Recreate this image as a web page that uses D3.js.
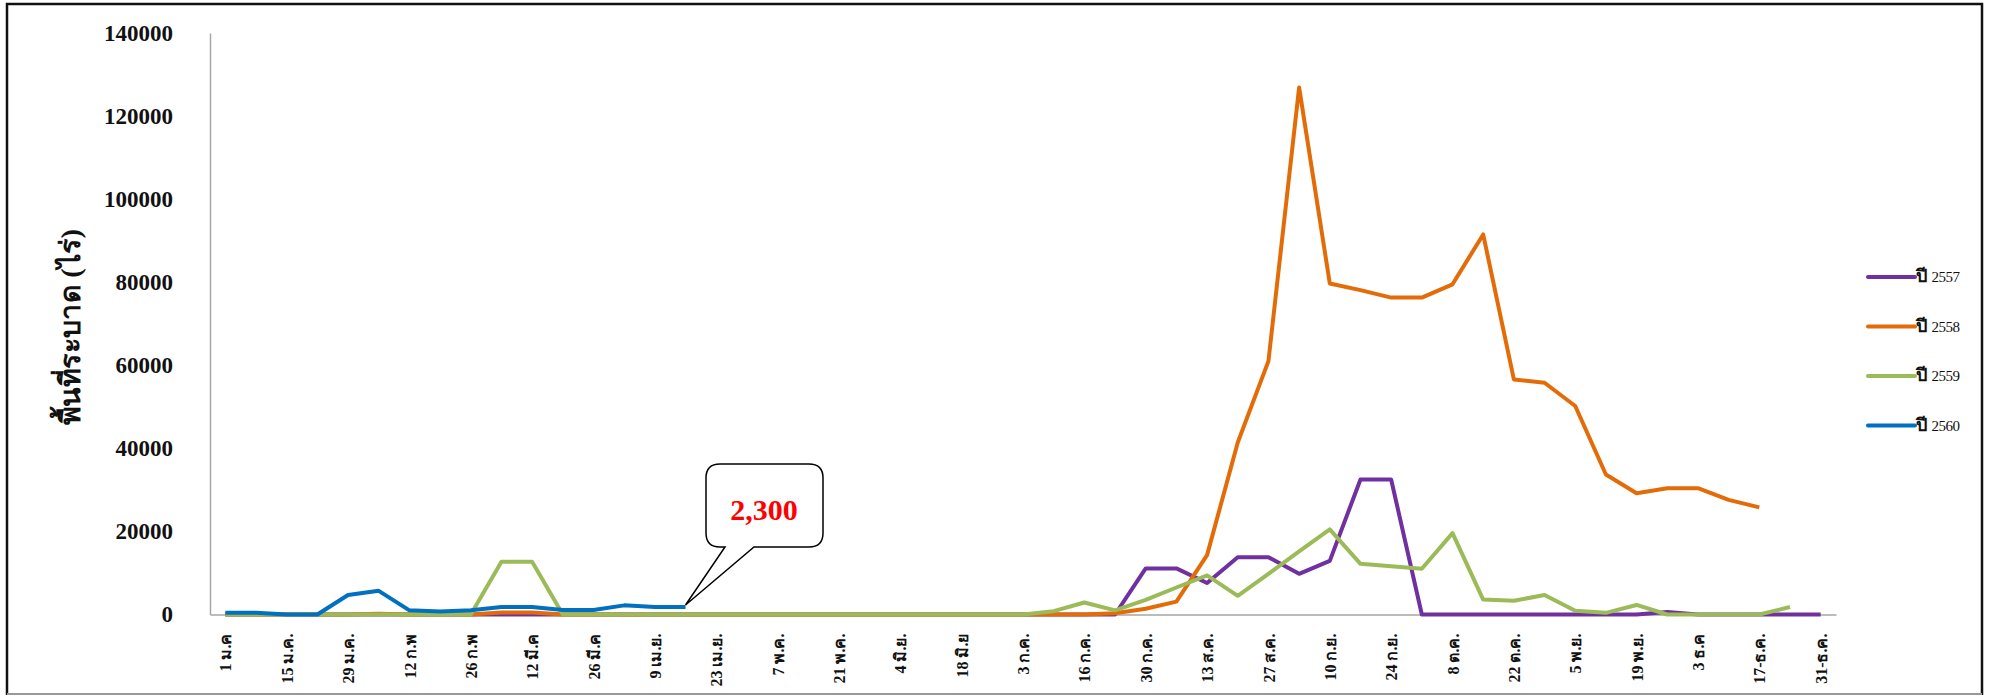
<!DOCTYPE html>
<html>
<head>
<meta charset="utf-8">
<script src="https://cdn.jsdelivr.net/npm/d3@7"></script>
<style>
body { margin:0; background:#fff; }
</style>
</head>
<body>
<div id="chart"></div>
<script>
// size of SVG
var w = 1992;
var h = 696;

// tick labels, one every second week
var tickLabels = ["1 ม.ค", "15 ม.ค.", "29 ม.ค.", "12 ก.พ", "26 ก.พ", "12 มี.ค", "26 มี.ค", "9 เม.ย.",
  "23 เม.ย.", "7 พ.ค.", "21 พ.ค.", "4 มิ.ย.", "18 มิ.ย", "3 ก.ค.", "16 ก.ค.", "30 ก.ค.", "13 ส.ค.",
  "27 ส.ค.", "10 ก.ย.", "24 ก.ย.", "8 ต.ค.", "22 ต.ค.", "5 พ.ย.", "19 พ.ย.", "3 ธ.ค", "17-ธ.ค.", "31-ธ.ค."];

// weekly values (rai), one per week, null = no data
var y2557 = [0,0,0,0,0,0,0,0,0,0, 0,0,0,0,0,0,0,0,0,0, 0,0,0,0,0,0,0,0,0,0,
  11100,11100,7600,13800,13800,9800,12900,32500,32500,0, 0,0,0,0,0,0,0,600,0,0, 0,0,0];
var y2558 = [0,0,0,0,0,200,0,0,0,500, 500,0,0,0,0,0,0,0,0,0, 0,0,0,0,0,0,0,0,0,300,
  1400,3100,14300,41400,61000,126900,79700,78100,76300,76300, 79500,91500,56600,55800,50200,33700,29200,30400,30400,27600, 25800,null,null];
var y2559 = [0,0,0,0,0,0,0,0,0,12700, 12700,0,0,0,0,0,0,0,0,0, 0,0,0,0,0,0,0,800,2900,1000,
  3500,6500,9400,4500,9800,15200,20500,12200,11600,11000, 19600,3600,3300,4700,900,400,2300,0,0,0, 0,1800,null];
var y2560 = [400,400,0,0,4700,5700,1000,700,1000,1800, 1800,1100,1100,2200,1800,1800,null,null,null,null,
  null,null,null,null,null,null,null,null,null,null, null,null,null,null,null,null,null,null,null,null,
  null,null,null,null,null,null,null,null,null,null, null,null,null];

var seriesYears = ["2557", "2558", "2559", "2560"];
var seriesColors = ["#7030A0", "#E36C09", "#9BBB59", "#0070C0"];
var seriesValues = [y2557, y2558, y2559, y2560];

// callout text
var calloutText = "2,300";
var calloutWeek = 15;

// set up SVG container
var svg = d3.select("#chart")
  .append("svg")
  .attr("width", w)
  .attr("height", h)
  .attr("xmlns", "http://www.w3.org/2000/svg");

// frame
svg.append("rect").attr("x", 0).attr("y", 0).attr("width", w).attr("height", h).attr("fill", "white");
svg.append("path")
  .attr("d", "M7,695 L7,4 L1982,4 L1982,695")
  .attr("fill", "none").attr("stroke", "#111").attr("stroke-width", 2.5);
svg.append("line").attr("x1", 7).attr("x2", 1982).attr("y1", 694).attr("y2", 694)
  .attr("stroke", "#999").attr("stroke-width", 2);

// scales
var x = d3.scalePoint()
  .domain(d3.range(y2557.length))
  .range([210, 1836])
  .padding(0.5);
var y = d3.scaleLinear()
  .domain([0, 140000])
  .range([614.5, 33]);

// y axis
var yAxis = svg.append("g")
  .attr("transform", "translate(210,0)")
  .call(d3.axisLeft(y).ticks(7).tickSize(0).tickPadding(37).tickFormat(d3.format("d")));
yAxis.select(".domain").attr("stroke", "#a6a6a6").attr("stroke-width", 1.5);
yAxis.selectAll("text")
  .attr("font-family", "'Liberation Serif', serif")
  .attr("font-weight", "bold")
  .attr("font-size", 23)
  .attr("fill", "#111");

// x axis
var xAxis = svg.append("g")
  .attr("transform", "translate(0," + y(0) + ")")
  .call(d3.axisBottom(x)
    .tickValues(d3.range(0, y2557.length, 2))
    .tickSize(0)
    .tickFormat(function(d) { return tickLabels[d / 2]; }));
xAxis.select(".domain").attr("stroke", "#a6a6a6").attr("stroke-width", 1.5);
xAxis.selectAll("text")
  .attr("font-family", "'Liberation Serif', 'Noto Sans', sans-serif")
  .attr("font-size", 16)
  .attr("font-weight", "bold")
  .attr("fill", "#111")
  .attr("text-anchor", "end")
  .attr("dy", "0.35em")
  .attr("transform", "translate(0,19) rotate(-90)")
  .attr("x", 0)
  .attr("y", 0);

// y axis title (squeezed like the narrow Thai font of the original)
svg.append("text")
  .attr("transform", "translate(80,425) rotate(-90)")
  .attr("text-anchor", "start")
  .attr("font-family", "'Liberation Serif', 'Noto Sans', sans-serif")
  .attr("font-weight", "bold")
  .attr("font-size", 28)
  .attr("fill", "#111")
  .attr("textLength", 196)
  .attr("lengthAdjust", "spacingAndGlyphs")
  .text("พื้นที่ระบาด (ไร่)");

// lines
var line = d3.line()
  .defined(function(d) { return d != null; })
  .x(function(d, i) { return x(i); })
  .y(function(d) { return y(d); });

svg.selectAll(".series")
  .data(seriesValues)
  .enter().append("path")
  .attr("class", "series")
  .attr("fill", "none")
  .attr("stroke", function(d, i) { return seriesColors[i]; })
  .attr("stroke-width", 4)
  .attr("stroke-linejoin", "round")
  .attr("d", line);

// callout bubble pointing at the last 2560 value
var tipX = x(calloutWeek);
var tipY = y(y2560[calloutWeek]) - 2;
var bx0 = 706, bx1 = 823, by0 = 464, by1 = 547, rr = 14;
svg.append("path")
  .attr("d",
    "M" + (bx0 + rr) + "," + by0 +
    " L" + (bx1 - rr) + "," + by0 +
    " Q" + bx1 + "," + by0 + " " + bx1 + "," + (by0 + rr) +
    " L" + bx1 + "," + (by1 - rr) +
    " Q" + bx1 + "," + by1 + " " + (bx1 - rr) + "," + by1 +
    " L754," + by1 +
    " L" + tipX + "," + tipY +
    " L725," + by1 +
    " L" + (bx0 + rr) + "," + by1 +
    " Q" + bx0 + "," + by1 + " " + bx0 + "," + (by1 - rr) +
    " L" + bx0 + "," + (by0 + rr) +
    " Q" + bx0 + "," + by0 + " " + (bx0 + rr) + "," + by0 + " Z")
  .attr("fill", "white")
  .attr("stroke", "black")
  .attr("stroke-width", 1.5);
svg.append("text")
  .attr("x", 764)
  .attr("y", 520)
  .attr("text-anchor", "middle")
  .attr("font-family", "'Liberation Serif', serif")
  .attr("font-weight", "bold")
  .attr("font-size", 30)
  .attr("fill", "#ff0000")
  .text(calloutText);

// legend
var legend = svg.selectAll(".legend")
  .data(seriesYears)
  .enter().append("g")
  .attr("class", "legend")
  .attr("transform", function(d, i) { return "translate(1868," + (277 + i * 49.5) + ")"; });
legend.append("line")
  .attr("x1", 0).attr("x2", 47)
  .attr("stroke", function(d, i) { return seriesColors[i]; })
  .attr("stroke-width", 4)
  .attr("stroke-linecap", "round");
var lt = legend.append("text")
  .attr("x", 48)
  .attr("y", 5)
  .attr("font-family", "'Liberation Serif', 'Noto Sans', serif")
  .attr("fill", "#111");
lt.append("tspan")
  .attr("font-size", 18)
  .attr("font-weight", "bold")
  .text("ปี ");
lt.append("tspan")
  .attr("font-size", 15)
  .attr("letter-spacing", -0.5)
  .text(function(d) { return d; });
</script>
</body>
</html>
